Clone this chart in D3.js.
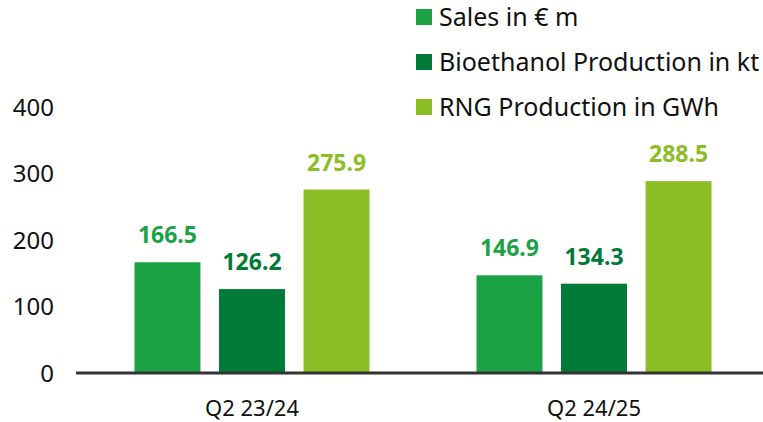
<!DOCTYPE html>
<html>
<head>
<meta charset="utf-8">
<script src="https://cdn.jsdelivr.net/npm/d3@7"></script>
<style>
  body { margin: 0; background: #fff; }
  text { font-family: "Noto Sans", "Open Sans", sans-serif; }
</style>
</head>
<body>
<svg id="chart"></svg>
<script>
const categories = ['Q2 23/24', 'Q2 24/25'];
const seriesNames = ['Sales in € m', 'Bioethanol Production in kt', 'RNG Production in GWh'];
const sales = [166.5, 146.9];
const bioethanol = [126.2, 134.3];
const rng = [275.9, 288.5];
const yTicks = [0, 100, 200, 300, 400];

const colors = ['#1ba245', '#007a37', '#8bbe25'];
const values = [sales, bioethanol, rng];

const width = 763, height = 422;
const svg = d3.select('#chart')
  .attr('width', width)
  .attr('height', height)
  .attr('viewBox', `0 0 ${width} ${height}`);

const y = d3.scaleLinear()
  .domain([0, 400])
  .range([373, 107]);
const x0 = d3.scaleBand()
  .domain(categories)
  .range([81, 765]);
const x1 = d3.scaleBand()
  .domain(seriesNames)
  .range([(x0.bandwidth() - 235) / 2, (x0.bandwidth() + 235) / 2])
  .paddingInner(0.22);

// y tick labels, no axis line
svg.append('g')
  .selectAll('text')
  .data(yTicks)
  .enter()
    .append('text')
      .attr('x', 54)
      .attr('y', d => y(d))
      .attr('dy', '0.36em')
      .attr('text-anchor', 'end')
      .style('font-size', '24px')
      .style('fill', '#111')
      .text(d => d);

// bars
const groups = svg.append('g')
  .selectAll('g')
  .data(categories)
  .enter()
    .append('g')
      .attr('transform', d => `translate(${x0(d)}, 0)`);

const cells = (c, i) => seriesNames.map((s, k) => ({ s, k, v: values[k][i] }));

groups.selectAll('rect')
  .data(cells)
  .enter()
    .append('rect')
      .attr('x', d => x1(d.s))
      .attr('y', d => y(d.v))
      .attr('width', x1.bandwidth())
      .attr('height', d => y(0) - y(d.v))
      .style('fill', d => colors[d.k]);

groups.selectAll('text')
  .data(cells)
  .enter()
    .append('text')
      .attr('x', d => x1(d.s) + x1.bandwidth() / 2)
      .attr('y', d => y(d.v) - 19)
      .attr('text-anchor', 'middle')
      .style('font-size', '23px')
      .style('font-weight', 'bold')
      .style('fill', d => colors[d.k])
      .text(d => d3.format('.1f')(d.v));

// baseline
svg.append('line')
  .attr('x1', 76)
  .attr('x2', width)
  .attr('y1', y(0))
  .attr('y2', y(0))
  .style('stroke', '#333')
  .style('stroke-width', 3);

// category labels
svg.append('g')
  .selectAll('text')
  .data(categories)
  .enter()
    .append('text')
      .attr('x', d => x0(d) + x0.bandwidth() / 2)
      .attr('y', 408)
      .attr('dy', '0.36em')
      .attr('text-anchor', 'middle')
      .style('font-size', '22px')
      .style('fill', '#111')
      .text(d => d);

// legend
const legend = svg.append('g')
  .attr('transform', 'translate(416, 0)')
  .selectAll('g')
  .data(seriesNames)
  .enter()
    .append('g')
      .attr('transform', (_, i) => `translate(0, ${17 + i * 45})`);
legend.append('rect')
  .attr('x', 0)
  .attr('y', -8)
  .attr('width', 16)
  .attr('height', 16)
  .style('fill', (_, i) => colors[i]);
legend.append('text')
  .attr('x', 23)
  .attr('y', 0)
  .attr('dy', '0.36em')
  .style('font-size', '25px')
  .style('fill', '#111')
  .text(d => d);
</script>
</body>
</html>
